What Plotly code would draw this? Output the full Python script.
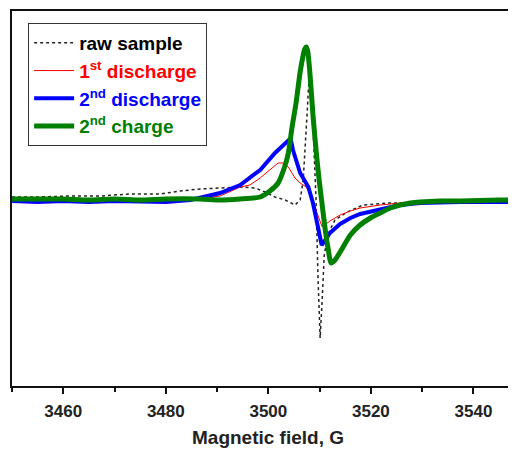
import plotly.graph_objects as go

# ---- data (field in G, EPR derivative intensity in arbitrary units) ----
raw_x = [3450, 3455, 3461.3, 3467.2, 3473.0, 3478.9, 3482.8, 3486.7, 3490.6, 3494.5, 3497.4,
         3499.4, 3501.3, 3503.3, 3505.2, 3506.2, 3506.8, 3507.2, 3507.6, 3507.8, 3508.1,
         3508.5, 3508.9, 3509.3, 3509.7, 3510.1, 3510.5, 3510.9, 3511.5, 3512.0, 3513.0,
         3515.4, 3518.5, 3523.2, 3527.1, 3533.5, 3540, 3548.3]
raw_y = [3, 3, 4, 4, 6, 6, 9, 11, 12, 13, 12,
         8, 3, 0, -5, 0, 20, 50, 90, 110, 130,
         100, 57, 0, -80, -138, -100, -55, -38, -30, -20,
         -12, -5, -3, -3, -1, 0, 0]

d1_x = [3450, 3460, 3470, 3480, 3486.7, 3490.6, 3494.5, 3496.4, 3498.4, 3500.3, 3501.9,
        3502.9, 3503.9, 3505.2, 3506.2, 3507.4, 3508.7, 3509.5, 3510.5, 3512.0, 3514.0,
        3516.0, 3517.9, 3521.8, 3525.7, 3529.6, 3537.4, 3548.3]
d1_y = [0, 0, 0, 0, 1, 4, 13, 15, 22, 30, 37,
        37, 33, 22, 17, 13, 0, -13, -27, -21, -15,
        -11, -8, -5, -3, -2, -1, -1]

d2_x = [3450, 3455, 3460, 3465, 3470, 3475, 3480, 3484.8, 3486.7, 3490.6, 3494.5, 3498.4,
        3501.3, 3503.3, 3504.0, 3504.4, 3504.8, 3506.2, 3507.8, 3508.7, 3509.5, 3510.4, 3511.1,
        3512.0, 3514.0, 3516.0, 3517.9, 3521.8, 3525.7, 3529.6, 3537.4, 3548.3]
d2_y = [-1, -2, -1, -2, -1, -1, -2, 0, 2, 7, 15, 30,
        47, 57, 60, 60, 50, 27, 13, -3, -23, -45, -40,
        -33, -24, -18, -14, -9, -5, -3, -2, -2]

c2_x = [3450, 3455, 3460, 3465, 3470, 3475, 3480, 3486.7, 3490.6, 3494.5, 3498.4, 3500.3,
        3501.9, 3503.1, 3503.9, 3504.6, 3505.4, 3506.2, 3506.8, 3507.1, 3507.4, 3507.7,
        3508.1, 3508.7, 3509.3, 3509.9, 3510.5, 3511.1, 3511.7, 3512.2, 3513.0, 3514.0,
        3516.0, 3517.9, 3519.9, 3521.8, 3523.8, 3525.7, 3527.7, 3529.6, 3533.5, 3537.4,
        3545.0, 3548.3]
c2_y = [1, 1, 1, 0, 1, 0, 1, 1, 0, 1, 3, 9,
        17, 32, 47, 72, 97, 128, 145, 151, 153, 148,
        127, 85, 50, 20, -5, -30, -50, -63, -60, -52,
        -35, -25, -18, -13, -8, -5, -3, -2, -1, -1,
        0, 0]

x_ticks = [3460, 3480, 3500, 3520, 3540]
x_minor = [3450, 3470, 3490, 3510, 3530]
x_range = [3450, 3548.3]
y_range = [-186, 189]

names = ["<span style='color:#000000'>raw sample</span>",
         "<span style='color:#ff0000'>1<sup>st</sup> discharge</span>",
         "<span style='color:#0000ff'>2<sup>nd</sup> discharge</span>",
         "<span style='color:#008000'>2<sup>nd</sup> charge</span>"]

fig = go.Figure()
fig.add_trace(go.Scatter(x=raw_x, y=raw_y, mode="lines", name=names[0], legendgroup="a",
                         line=dict(color="#222222", width=1.5, dash="dot")))
fig.add_trace(go.Scatter(x=d1_x, y=d1_y, mode="lines", name=names[1], legendgroup="b",
                         line=dict(color="#ff0000", width=1)))
fig.add_trace(go.Scatter(x=d2_x, y=d2_y, mode="lines", name=names[2], legendgroup="c",
                         line=dict(color="#0000ff", width=4)))
fig.add_trace(go.Scatter(x=c2_x, y=c2_y, mode="lines", name=names[3], legendgroup="d",
                         line=dict(color="#008000", width=5, shape="spline", smoothing=0.6)))

fig.update_layout(
    width=508, height=442,
    margin=dict(l=4, r=0, t=3, b=64),
    plot_bgcolor="white", paper_bgcolor="white",
    font=dict(family="Liberation Sans, Arial, sans-serif", color="#222222"),
    showlegend=True,
    legend=dict(x=0.032, y=0.968, xanchor="left", yanchor="top",
                bordercolor="#333333", borderwidth=1, bgcolor="white",
                font=dict(size=19, weight="bold"), tracegroupgap=0,
                itemwidth=40),
    xaxis=dict(range=x_range, tickvals=x_ticks, showgrid=False, zeroline=False,
               showline=True, linecolor="#111111", linewidth=2, mirror=True,
               ticks="outside", ticklen=6, tickwidth=1.5, tickcolor="#111111",
               ticklabelstandoff=3,
               tickfont=dict(size=17, weight="bold", color="#222222"),
               minor=dict(tickvals=x_minor, ticks="outside",
                          ticklen=4, tickwidth=1.5, tickcolor="#111111")),
    yaxis=dict(range=y_range, showgrid=False, zeroline=False, showticklabels=False,
               showline=True, linecolor="#111111", linewidth=2, ticks=""),
    annotations=[dict(x=3500, xref="x", y=-0.137, yref="paper", yanchor="middle",
                      showarrow=False, text="Magnetic field, G",
                      font=dict(size=19, weight="bold", color="#222222"))],
)

fig.write_html("out.html")
